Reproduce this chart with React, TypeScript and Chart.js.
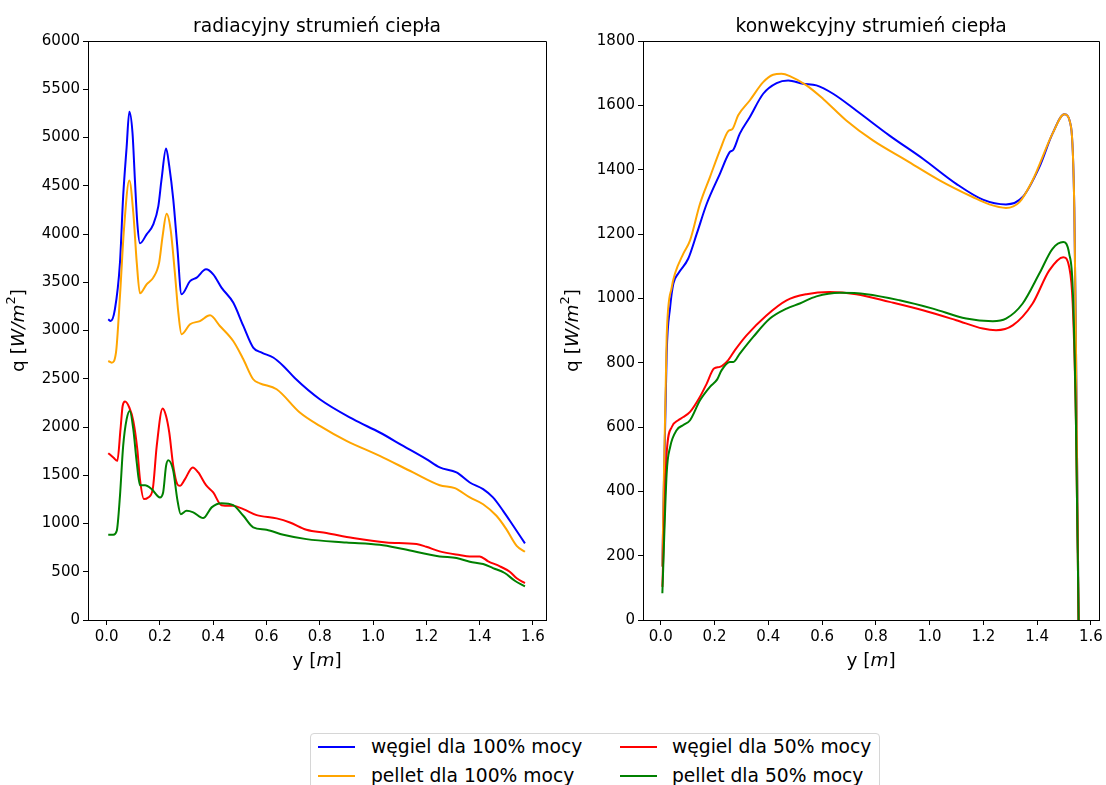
import React, { useEffect, useRef } from "react";
import { Chart, registerables } from "chart.js";

Chart.register(...registerables);

// ---------- data: radiacyjny strumień ciepła (left) ----------
const radWegiel100X = [0.006, 0.015, 0.031, 0.05, 0.062, 0.075, 0.085, 0.097, 0.106, 0.115, 0.125, 0.15, 0.175, 0.194, 0.206, 0.223, 0.235, 0.25, 0.265, 0.281, 0.313, 0.338, 0.373, 0.4, 0.431, 0.475, 0.513, 0.55, 0.582, 0.625, 0.663, 0.707, 0.8, 0.925, 1.025, 1.113, 1.2, 1.25, 1.313, 1.363, 1.413, 1.45, 1.488, 1.526, 1.57];
const radWegiel100Y = [3116, 3098, 3220, 3703, 4392, 4900, 5266, 5049, 4565, 4117, 3903, 3996, 4099, 4289, 4565, 4886, 4703, 4358, 3875, 3375, 3512, 3548, 3634, 3582, 3444, 3289, 3047, 2823, 2771, 2720, 2633, 2505, 2288, 2081, 1943, 1804, 1667, 1581, 1529, 1425, 1356, 1270, 1131, 976, 794];

const radPellet100X = [0.006, 0.019, 0.035, 0.05, 0.065, 0.085, 0.1, 0.113, 0.125, 0.15, 0.175, 0.197, 0.21, 0.225, 0.24, 0.256, 0.269, 0.281, 0.313, 0.35, 0.388, 0.425, 0.475, 0.513, 0.55, 0.575, 0.638, 0.725, 0.8, 0.9, 1.025, 1.15, 1.25, 1.307, 1.363, 1.413, 1.463, 1.5, 1.539, 1.57];
const radPellet100Y = [2684, 2667, 2771, 3357, 4048, 4555, 4220, 3703, 3385, 3478, 3548, 3703, 3978, 4210, 4048, 3599, 3185, 2961, 3064, 3098, 3157, 3047, 2891, 2702, 2495, 2453, 2391, 2150, 2011, 1856, 1701, 1529, 1397, 1366, 1270, 1200, 1080, 942, 769, 707];

const radWegiel50X = [0.006, 0.025, 0.04, 0.052, 0.06, 0.069, 0.085, 0.1, 0.115, 0.125, 0.14, 0.156, 0.173, 0.188, 0.21, 0.223, 0.235, 0.25, 0.265, 0.275, 0.294, 0.323, 0.344, 0.373, 0.4, 0.431, 0.475, 0.513, 0.563, 0.638, 0.688, 0.75, 0.825, 0.925, 1.05, 1.163, 1.2, 1.25, 1.325, 1.363, 1.4, 1.432, 1.476, 1.513, 1.539, 1.57];
const radWegiel50Y = [1729, 1684, 1649, 1977, 2218, 2264, 2202, 2063, 1770, 1460, 1253, 1270, 1356, 1804, 2192, 2115, 1943, 1597, 1408, 1390, 1460, 1581, 1529, 1397, 1322, 1190, 1183, 1149, 1087, 1053, 1011, 935, 901, 849, 804, 787, 759, 711, 673, 659, 659, 608, 556, 500, 432, 383];

const radPellet50X = [0.006, 0.025, 0.038, 0.05, 0.062, 0.075, 0.087, 0.1, 0.113, 0.125, 0.144, 0.169, 0.2, 0.212, 0.223, 0.231, 0.25, 0.265, 0.278, 0.3, 0.325, 0.362, 0.394, 0.431, 0.475, 0.513, 0.55, 0.6, 0.663, 0.75, 0.9, 1.025, 1.113, 1.25, 1.313, 1.363, 1.413, 1.45, 1.494, 1.532, 1.57];
const radPellet50Y = [883, 883, 925, 1287, 1804, 2081, 2167, 1977, 1632, 1397, 1397, 1356, 1270, 1322, 1597, 1656, 1546, 1253, 1097, 1131, 1115, 1056, 1167, 1211, 1190, 1080, 960, 935, 883, 838, 804, 780, 735, 659, 642, 604, 580, 538, 487, 407, 349];

// ---------- data: konwekcyjny strumień ciepła (right) ----------
const konWegiel100X = [0.006, 0.022, 0.035, 0.047, 0.065, 0.102, 0.134, 0.171, 0.22, 0.257, 0.27, 0.294, 0.331, 0.381, 0.431, 0.474, 0.529, 0.579, 0.641, 0.727, 0.851, 0.975, 1.099, 1.198, 1.284, 1.346, 1.408, 1.457, 1.501, 1.526, 1.538, 1.544, 1.554];
const konWegiel100Y = [166, 828, 973, 1046, 1077, 1123, 1201, 1294, 1387, 1455, 1462, 1512, 1563, 1636, 1669, 1677, 1667, 1662, 1636, 1584, 1506, 1434, 1356, 1307, 1292, 1315, 1408, 1512, 1572, 1532, 1284, 870, 0];

const konPellet100X = [0.006, 0.022, 0.041, 0.053, 0.084, 0.109, 0.146, 0.183, 0.22, 0.251, 0.267, 0.288, 0.331, 0.381, 0.418, 0.449, 0.48, 0.542, 0.604, 0.69, 0.789, 0.913, 1.037, 1.16, 1.222, 1.284, 1.334, 1.383, 1.457, 1.501, 1.526, 1.538, 1.544, 1.554];
const konPellet100Y = [166, 880, 1035, 1077, 1139, 1180, 1294, 1377, 1460, 1520, 1527, 1569, 1615, 1672, 1695, 1698, 1691, 1662, 1620, 1553, 1491, 1429, 1367, 1315, 1292, 1281, 1299, 1367, 1512, 1572, 1532, 1284, 870, 0];

const konWegiel50X = [0.006, 0.022, 0.041, 0.065, 0.084, 0.109, 0.146, 0.171, 0.198, 0.22, 0.251, 0.276, 0.319, 0.393, 0.468, 0.542, 0.628, 0.727, 0.851, 0.975, 1.099, 1.198, 1.247, 1.309, 1.383, 1.445, 1.497, 1.519, 1.532, 1.544, 1.554];
const konWegiel50Y = [103, 518, 600, 621, 631, 647, 694, 735, 782, 787, 808, 839, 885, 947, 994, 1013, 1020, 1013, 989, 963, 932, 906, 901, 916, 984, 1087, 1128, 1097, 984, 621, 0];

const konPellet50X = [0.006, 0.022, 0.035, 0.059, 0.084, 0.109, 0.146, 0.183, 0.21, 0.226, 0.257, 0.27, 0.294, 0.344, 0.406, 0.468, 0.517, 0.579, 0.666, 0.765, 0.888, 1.012, 1.136, 1.235, 1.284, 1.346, 1.408, 1.457, 1.497, 1.519, 1.532, 1.544, 1.554];
const konPellet50Y = [83, 456, 538, 590, 606, 621, 683, 725, 748, 776, 802, 802, 828, 880, 937, 968, 984, 1006, 1017, 1013, 994, 968, 937, 929, 937, 984, 1077, 1154, 1175, 1139, 1035, 621, 0];

// ---------- labels / ticks ----------
const seriesLabels = ["węgiel dla 100% mocy", "pellet dla 100% mocy", "węgiel dla 50% mocy", "pellet dla 50% mocy"];
const seriesColors = ["#0000ff", "#ffa500", "#ff0000", "#008000"];
const xTickValues = [0, 0.2, 0.4, 0.6, 0.8, 1.0, 1.2, 1.4, 1.6];
const titles = ["radiacyjny strumień ciepła", "konwekcyjny strumień ciepła"];

const FONT = '"DejaVu Sans", "Liberation Sans", sans-serif';

function toPoints(xs: number[], ys: number[]) {
  return xs.map((x, i) => ({ x, y: ys[i] }));
}

type PanelCfg = {
  title: string;
  xs: number[][];
  ys: number[][];
  xMin: number;
  xMax: number;
  yMax: number;
  yStep: number;
  padRight: number;
  yAxisWidth: number;
  yLabelX: number;
};

function drawRich(ctx: CanvasRenderingContext2D, parts: { t: string; italic?: boolean; sup?: boolean }[], size: number) {
  const fonts = parts.map((p) => `${p.italic ? "italic " : ""}${p.sup ? size * 0.7 : size}px ${FONT}`);
  let total = 0;
  const widths = parts.map((p, i) => {
    ctx.font = fonts[i];
    const w = ctx.measureText(p.t).width;
    total += w;
    return w;
  });
  let x = -total / 2;
  ctx.textBaseline = "middle";
  ctx.textAlign = "left";
  parts.forEach((p, i) => {
    ctx.font = fonts[i];
    ctx.fillText(p.t, x, p.sup ? -size * 0.38 : 0);
    x += widths[i];
  });
}

function makePanel(canvas: HTMLCanvasElement, cfg: PanelCfg) {
  const H = canvas.height;
  const framePlugin = {
    id: "frame",
    afterDraw(chart: any) {
      const { ctx, chartArea } = chart;
      const { left, right, top, bottom } = chartArea;
      ctx.save();
      ctx.strokeStyle = "#000";
      ctx.lineWidth = 1;
      ctx.beginPath();
      ctx.moveTo(Math.round(left) - 0.5, Math.round(top) + 0.5);
      ctx.lineTo(Math.round(right) + 0.5, Math.round(top) + 0.5);
      ctx.lineTo(Math.round(right) + 0.5, Math.round(bottom) + 0.5);
      ctx.stroke();
      // title
      ctx.fillStyle = "#000";
      ctx.font = `18.7px ${FONT}`;
      ctx.textAlign = "center";
      ctx.textBaseline = "alphabetic";
      ctx.fillText(cfg.title, (left + right) / 2, top - 9);
      // x label
      ctx.save();
      ctx.translate((left + right) / 2, bottom + 41);
      drawRich(ctx, [{ t: "y [" }, { t: "m", italic: true }, { t: "]" }], 18.5);
      ctx.restore();
      // y label
      ctx.save();
      ctx.translate(cfg.yLabelX, (top + bottom) / 2);
      ctx.rotate(-Math.PI / 2);
      drawRich(ctx, [{ t: "q [" }, { t: "W/m", italic: true }, { t: "2", sup: true }, { t: "]" }], 18.5);
      ctx.restore();
      ctx.restore();
    },
  };

  const datasets = cfg.xs.map((xs, i) => ({
    label: seriesLabels[i],
    data: toPoints(xs, cfg.ys[i]),
    borderColor: seriesColors[i],
    backgroundColor: seriesColors[i],
    borderWidth: 2,
    pointRadius: 0,
    fill: false,
    cubicInterpolationMode: "monotone" as const,
    order: 3 - i,
  }));

  return new Chart(canvas, {
    type: "line",
    data: { datasets },
    options: {
      responsive: false,
      animation: false,
      devicePixelRatio: 1,
      layout: { padding: { top: 41, right: cfg.padRight, left: 0, bottom: 0 } },
      plugins: { legend: { display: false }, title: { display: false }, tooltip: { enabled: false } },
      scales: {
        x: {
          type: "linear",
          min: cfg.xMin,
          max: cfg.xMax,
          afterBuildTicks(scale: any) {
            scale.ticks = xTickValues.map((v) => ({ value: v }));
          },
          afterFit(scale: any) {
            scale.height = H - 620;
          },
          grid: { display: true, drawOnChartArea: false, drawTicks: true, tickLength: 5, color: "#000" },
          border: { display: true, color: "#000", width: 1 },
          ticks: {
            color: "#000",
            font: { family: FONT, size: 15 },
            padding: 3,
            maxRotation: 0,
            autoSkip: false,
            callback: (v: any) => Number(v).toFixed(1),
          },
        },
        y: {
          type: "linear",
          min: 0,
          max: cfg.yMax,
          afterFit(scale: any) {
            scale.width = cfg.yAxisWidth;
          },
          grid: { display: true, drawOnChartArea: false, drawTicks: true, tickLength: 5, color: "#000" },
          border: { display: true, color: "#000", width: 1 },
          ticks: {
            color: "#000",
            stepSize: cfg.yStep,
            font: { family: FONT, size: 15 },
            padding: 3,
            autoSkip: false,
            callback: (v: any) => String(v),
          },
        },
      },
    },
    plugins: [framePlugin],
  } as any);
}

function Legend() {
  const items = [
    { i: 0, col: 0, row: 0 },
    { i: 1, col: 0, row: 1 },
    { i: 2, col: 1, row: 0 },
    { i: 3, col: 1, row: 1 },
  ];
  const rowY = [13, 42];
  const swatchX = [7, 309];
  const textX = [60, 361];
  return (
    <div
      style={{
        position: "absolute",
        left: 310,
        top: 733,
        width: 570,
        height: 80,
        border: "1px solid #d6d6d6",
        borderRadius: 4,
        background: "#fff",
        boxSizing: "border-box",
        fontFamily: FONT,
        fontSize: 18.7,
        color: "#000",
      }}
    >
      {items.map(({ i, col, row }) => (
        <div key={i}>
          <div
            style={{
              position: "absolute",
              left: swatchX[col],
              top: rowY[row] - 1,
              width: 37,
              height: 2,
              background: seriesColors[i],
            }}
          />
          <div
            style={{
              position: "absolute",
              left: textX[col],
              top: rowY[row] - 12,
              lineHeight: "23px",
              whiteSpace: "nowrap",
            }}
          >
            {seriesLabels[i]}
          </div>
        </div>
      ))}
    </div>
  );
}

export default function App() {
  const leftRef = useRef<HTMLCanvasElement>(null);
  const rightRef = useRef<HTMLCanvasElement>(null);

  useEffect(() => {
    const c1 = makePanel(leftRef.current!, {
      title: titles[0],
      xs: [radWegiel100X, radPellet100X, radWegiel50X, radPellet50X],
      ys: [radWegiel100Y, radPellet100Y, radWegiel50Y, radPellet50Y],
      xMin: -0.07,
      xMax: 1.649,
      yMax: 6000,
      yStep: 500,
      padRight: 553 - 546,
      yAxisWidth: 88,
      yLabelX: 19,
    });
    const c2 = makePanel(rightRef.current!, {
      title: titles[1],
      xs: [konWegiel100X, konPellet100X, konWegiel50X, konPellet50X],
      ys: [konWegiel100Y, konPellet100Y, konWegiel50Y, konPellet50Y],
      xMin: -0.066,
      xMax: 1.631,
      yMax: 1800,
      yStep: 200,
      padRight: 553 - 547,
      yAxisWidth: 90,
      yLabelX: 20,
    });
    return () => {
      c1.destroy();
      c2.destroy();
    };
  }, []);

  return (
    <div style={{ position: "absolute", left: 0, top: 0, width: 1106, height: 785, overflow: "hidden", background: "#fff" }}>
      <canvas ref={leftRef} width={553} height={700} style={{ position: "absolute", left: 0, top: 0, width: 553, height: 700 }} />
      <canvas ref={rightRef} width={553} height={700} style={{ position: "absolute", left: 553, top: 0, width: 553, height: 700 }} />
      <Legend />
    </div>
  );
}
